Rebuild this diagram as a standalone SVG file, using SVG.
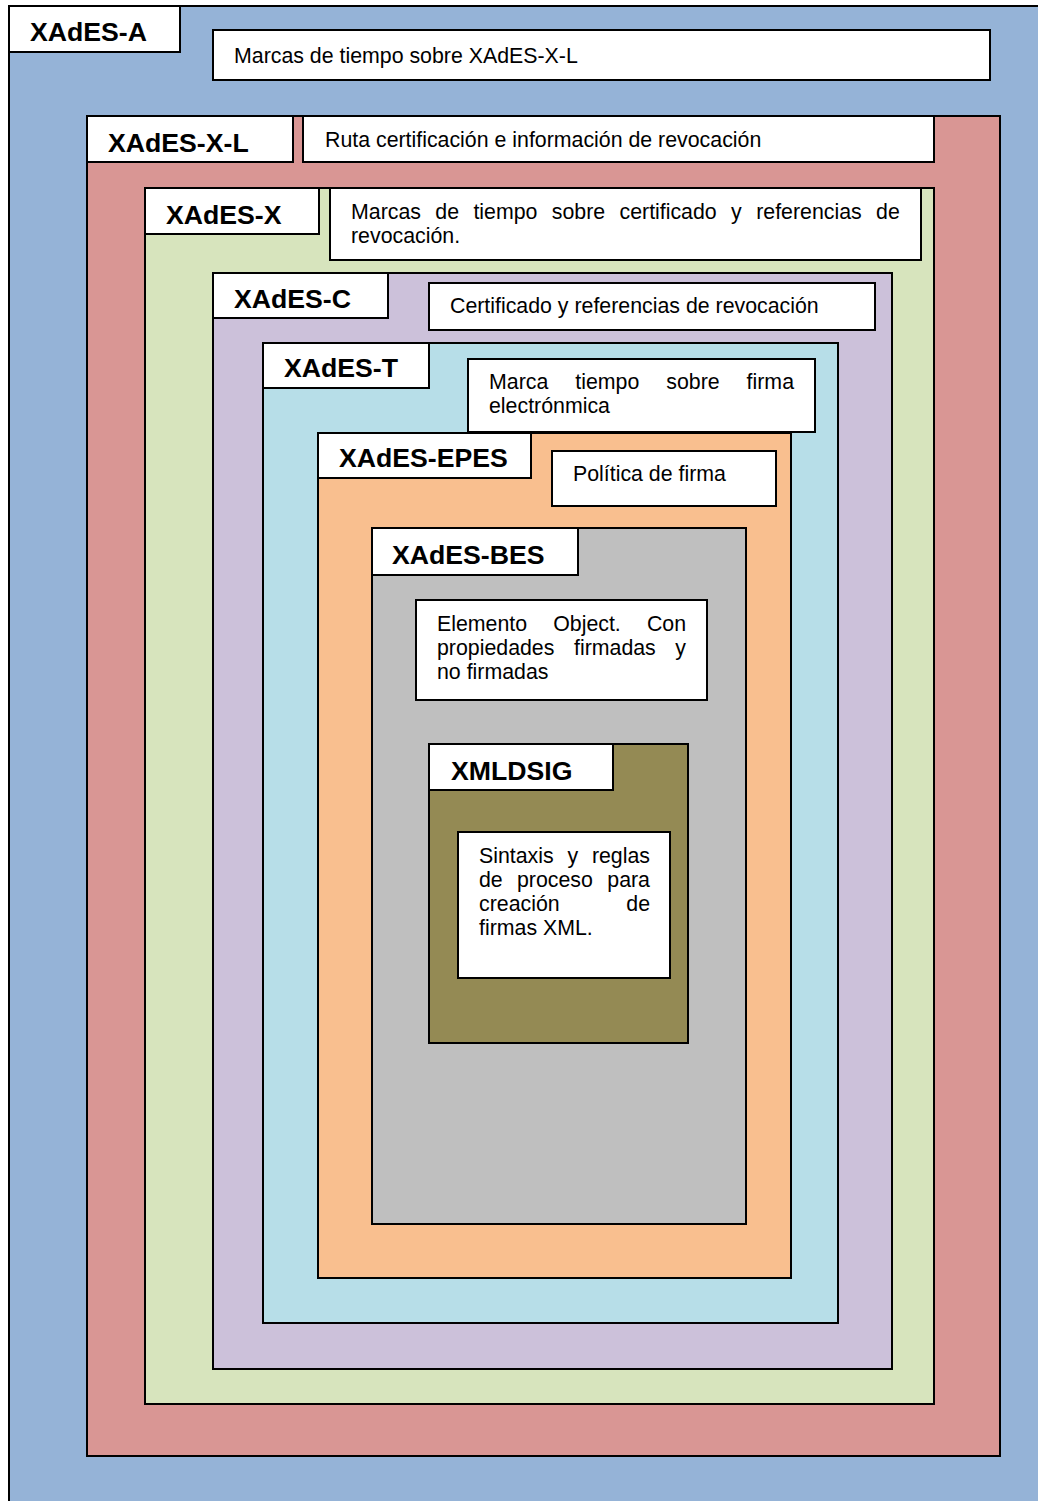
<svg xmlns="http://www.w3.org/2000/svg" width="1038" height="1501" viewBox="0 0 1038 1501">
  <style>
    rect { stroke: #000; stroke-width: 2; }
    .lbl { fill: #fff; }
    .box { fill: #fff; }
    .ttl { font-family: "Liberation Sans", Arial, sans-serif; font-weight: bold; font-size: 26.67px; fill: #000; }
    .txt { font-family: "Liberation Sans", Arial, sans-serif; font-size: 21.33px; fill: #000; }
  </style>

  <!-- XAdES-A (outermost layer) -->
  <g id="xades-a">
    <rect x="9" y="6" width="1040" height="1510" fill="#95B3D7"/>
    <rect class="lbl" x="9" y="6" width="171" height="46"/>
    <text class="ttl" x="30" y="41">XAdES-A</text>
    <rect class="box" x="213" y="30" width="777" height="50"/>
    <text class="txt" x="234" y="63">Marcas de tiempo sobre XAdES-X-L</text>
  </g>

  <!-- XAdES-X-L -->
  <g id="xades-x-l">
    <rect x="87" y="116" width="913" height="1340" fill="#D99694"/>
    <rect class="lbl" x="87" y="116" width="206" height="46"/>
    <text class="ttl" x="108" y="152">XAdES-X-L</text>
    <rect class="box" x="303" y="116" width="631" height="46"/>
    <text class="txt" x="325" y="147">Ruta certificación e información de revocación</text>
  </g>

  <!-- XAdES-X -->
  <g id="xades-x">
    <rect x="145" y="188" width="789" height="1216" fill="#D7E4BD"/>
    <rect class="lbl" x="145" y="188" width="174" height="46"/>
    <text class="ttl" x="166" y="224">XAdES-X</text>
    <rect class="box" x="330" y="188" width="591" height="72"/>
    <text class="txt" y="219">
      <tspan x="351">Marcas</tspan><tspan x="435.3">de</tspan><tspan x="473.4">tiempo</tspan><tspan x="551.8">sobre</tspan><tspan x="619.5">certificado</tspan><tspan x="731.1">y</tspan><tspan x="756.2">referencias</tspan><tspan x="876.1">de</tspan>
    </text>
    <text class="txt" x="351" y="243">revocación.</text>
  </g>

  <!-- XAdES-C -->
  <g id="xades-c">
    <rect x="213" y="273" width="679" height="1096" fill="#CCC1DA"/>
    <rect class="lbl" x="213" y="273" width="175" height="45"/>
    <text class="ttl" x="234" y="308">XAdES-C</text>
    <rect class="box" x="429" y="283" width="446" height="47"/>
    <text class="txt" x="450" y="313">Certificado y referencias de revocación</text>
  </g>

  <!-- XAdES-T -->
  <g id="xades-t">
    <rect x="263" y="343" width="575" height="980" fill="#B7DEE8"/>
    <rect class="lbl" x="263" y="343" width="166" height="45"/>
    <text class="ttl" x="284" y="377">XAdES-T</text>
    <rect class="box" x="468" y="359" width="347" height="73"/>
    <text class="txt" y="389">
      <tspan x="489">Marca</tspan><tspan x="575.3">tiempo</tspan><tspan x="666.3">sobre</tspan><tspan x="746.6">firma</tspan>
    </text>
    <text class="txt" x="489" y="413">electrónmica</text>
  </g>

  <!-- XAdES-EPES -->
  <g id="xades-epes">
    <rect x="318" y="433" width="473" height="845" fill="#F9BF8F"/>
    <rect class="lbl" x="318" y="433" width="213" height="45"/>
    <text class="ttl" x="339" y="467">XAdES-EPES</text>
    <rect class="box" x="552" y="451" width="224" height="55"/>
    <text class="txt" x="573" y="481">Política de firma</text>
  </g>

  <!-- XAdES-BES -->
  <g id="xades-bes">
    <rect x="372" y="528" width="374" height="696" fill="#BFBFBF"/>
    <rect class="lbl" x="372" y="528" width="206" height="47"/>
    <text class="ttl" x="392" y="564">XAdES-BES</text>
    <rect class="box" x="416" y="600" width="291" height="100"/>
    <text class="txt" y="631">
      <tspan x="437">Elemento</tspan><tspan x="553.2">Object.</tspan><tspan x="646.9">Con</tspan>
    </text>
    <text class="txt" y="655">
      <tspan x="437">propiedades</tspan><tspan x="574">firmadas</tspan><tspan x="675.3">y</tspan>
    </text>
    <text class="txt" x="437" y="679">no firmadas</text>
  </g>

  <!-- XMLDSIG (core) -->
  <g id="xmldsig">
    <rect x="429" y="744" width="259" height="299" fill="#948A54"/>
    <rect class="lbl" x="429" y="744" width="184" height="46"/>
    <text class="ttl" x="451" y="780">XMLDSIG</text>
    <rect class="box" x="458" y="832" width="212" height="146"/>
    <text class="txt" y="863">
      <tspan x="479">Sintaxis</tspan><tspan x="567.4">y</tspan><tspan x="591.9">reglas</tspan>
    </text>
    <text class="txt" y="887">
      <tspan x="479">de</tspan><tspan x="517">proceso</tspan><tspan x="607.3">para</tspan>
    </text>
    <text class="txt" y="911">
      <tspan x="479">creación</tspan><tspan x="626.3">de</tspan>
    </text>
    <text class="txt" x="479" y="935">firmas XML.</text>
  </g>

  <!-- no connectors in this layered diagram -->
  <g id="connectors"/>
</svg>
